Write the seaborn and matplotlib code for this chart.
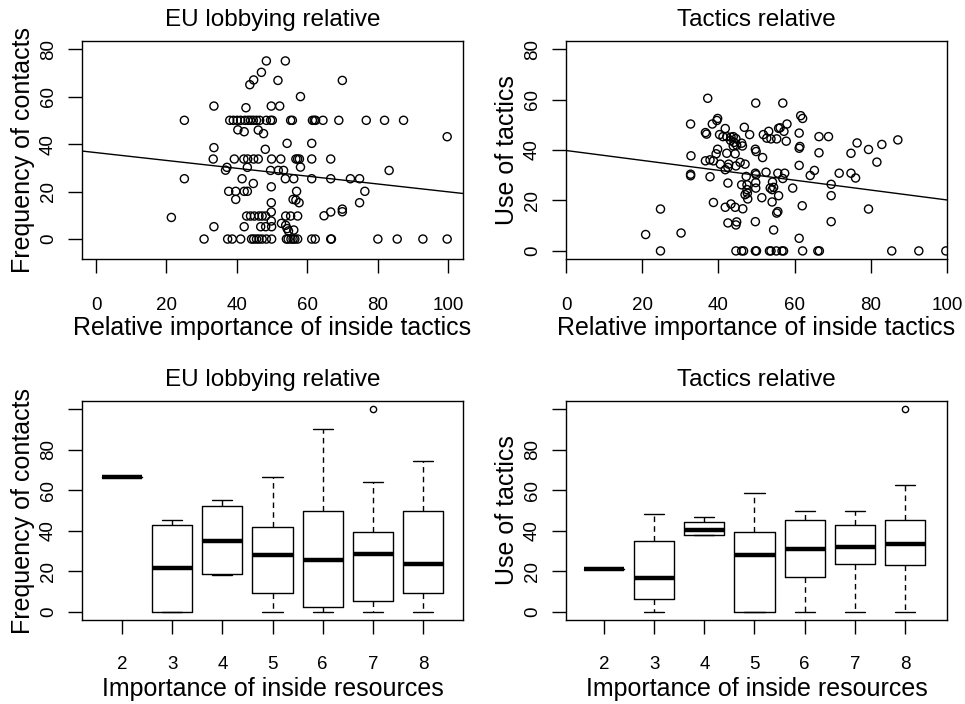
import matplotlib
matplotlib.use("Agg")
import matplotlib.pyplot as plt
import seaborn as sns
import numpy as np

# ----- scatter data: relative importance of inside tactics vs frequency of contacts -----
inside_eu = [48.4, 53.8, 47.0, 44.8, 43.7, 51.7, 70.0, 58.1, 33.5, 42.6, 49.8, 52.2,
             25.1, 38.0, 39.0, 40.1, 41.1, 42.3, 43.2, 43.9, 44.7, 45.6, 46.5, 48.4,
             49.6, 50.1, 55.3, 55.8, 61.5, 62.0, 62.4, 64.5, 69.0, 76.8, 82.0, 87.4,
             40.3, 42.1, 46.1, 47.6, 99.8, 54.3, 61.3, 33.5, 48.1,
             33.3, 39.3, 42.0, 43.1, 44.8, 46.1, 49.9, 52.5, 56.8, 57.3, 57.8, 61.3, 66.7,
             36.8, 37.2, 43.0, 49.6, 51.8, 53.3, 58.1, 83.3,
             25.1, 41.5, 53.8, 56.2, 61.3, 66.7, 72.3, 74.9,
             44.7, 49.8, 76.4, 37.7, 39.7, 42.1, 43.0, 57.0, 39.7, 56.0, 56.8, 57.7, 49.8, 74.9,
             70.0, 70.0, 66.7, 49.8, 64.8, 21.4,
             42.8, 43.9, 45.0, 46.3, 47.2, 48.2, 53.9, 55.3, 57.3,
             49.8, 52.7, 53.9, 49.9, 33.5, 42.1, 46.8, 48.2, 54.3, 56.2, 54.7,
             30.7, 37.4, 38.7, 41.1, 44.2, 44.8, 45.6, 46.3, 47.2, 48.4, 49.9, 54.1, 54.6,
             55.4, 56.0, 56.5, 57.3, 61.3, 62.3, 66.7, 66.9, 80.1, 85.6, 92.9, 99.8]
contacts = [75.0, 75.0, 70.2, 67.0, 65.0, 66.8, 66.8, 60.0, 56.0, 55.3, 56.0, 56.0,
            50, 50, 50, 50, 50, 50, 50, 50, 50, 50, 50, 50,
            50, 50, 50, 50, 50, 50, 50, 50, 50, 50, 50, 50,
            46.0, 45.2, 45.9, 44.4, 43.1, 40.3, 40.3, 38.5, 37.8,
            33.7, 33.7, 33.7, 33.7, 33.7, 33.7, 33.7, 33.7, 33.7, 33.7, 33.7, 33.7, 33.7,
            29.0, 30.2, 30.2, 28.9, 28.9, 28.9, 30.3, 28.9,
            25.4, 25.4, 25.4, 25.4, 25.4, 25.4, 25.4, 25.4,
            23.4, 22.0, 20.1, 20.1, 20.1, 20.1, 20.1, 20.1, 16.7, 16.7, 16.4, 15.3, 15.3, 15.3,
            12.6, 11.5, 11.4, 11.4, 9.8, 9.1,
            9.7, 9.7, 9.7, 9.7, 9.7, 9.7, 9.7, 9.7, 9.7,
            7.6, 6.6, 5.8, 5.2, 5.2, 5.2, 5.2, 5.2, 4.4, 3.8, 3.4,
            0, 0, 0, 0, 0, 0, 0, 0, 0, 0, 0, 0, 0,
            0, 0, 0, 0, 0, 0, 0, 0, 0, 0, 0, 0]

# ----- scatter data: relative importance of inside tactics vs use of tactics -----
inside_tac = [37.2, 49.8, 56.9, 61.6, 62.1, 32.7, 39.8, 39.6, 38.4, 58.0, 46.8, 41.8,
              55.8, 56.2, 53.2, 57.2, 36.6, 36.9, 48.2, 51.8, 61.2, 66.4, 68.9, 40.3,
              41.2, 52.7, 53.8, 55.3, 87.1, 57.8, 76.4, 82.9, 42.2, 43.3, 43.9, 44.6,
              43.2, 44.1, 44.8, 46.1, 46.3, 43.9, 79.4, 61.2, 61.4, 49.7, 49.9, 39.8,
              39.4, 42.2, 44.4, 66.4, 74.8, 32.8, 51.6, 36.6, 37.8, 38.7, 81.6, 45.7,
              40.5, 42.7, 47.0, 44.6, 61.2, 41.8, 42.5, 65.2, 64.1, 32.7, 32.7, 37.8,
              49.7, 49.9, 52.5, 55.6, 57.4, 71.7, 74.8, 56.9, 76.0, 47.3, 46.1, 47.5,
              49.8, 54.2, 69.6, 42.5, 59.5, 49.8, 53.6, 54.1, 54.5, 47.5, 47.6, 47.0,
              47.7, 51.4, 55.8, 69.6, 38.7, 54.1, 43.3, 41.8, 44.4, 46.4, 62.0, 24.8,
              79.4, 55.6, 55.3, 42.5, 44.8, 44.6, 49.7, 69.6, 54.5, 30.2, 20.9, 61.2,
              24.8, 44.6, 46.1, 46.6, 49.7, 50.0, 53.4, 53.8, 55.2, 56.7, 57.1, 62.1,
              66.1, 66.5, 85.5, 92.6, 99.7]
tactics_use = [60.5, 58.6, 58.6, 53.6, 52.5, 50.3, 52.5, 51.7, 50.3, 50.3, 49.0, 48.5,
               48.6, 48.8, 47.4, 47.4, 46.9, 46.3, 46.1, 46.1, 46.7, 45.3, 45.3, 46.1,
               45.3, 44.7, 44.4, 44.4, 44.0, 43.5, 42.8, 42.2, 45.3, 45.1, 45.3, 44.5,
               43.8, 43.0, 41.9, 42.7, 41.6, 41.6, 40.2, 40.7, 41.4, 40.3, 39.4, 40.3,
               38.5, 38.7, 38.5, 38.9, 38.7, 37.7, 37.0, 35.7, 36.1, 35.7, 35.2, 35.1,
               34.4, 34.4, 34.4, 33.7, 33.9, 32.2, 33.1, 31.9, 29.9, 30.4, 29.8, 29.4,
               30.8, 30.2, 31.2, 30.8, 30.8, 30.8, 30.8, 28.7, 28.9, 29.5, 26.2, 26.2,
               27.1, 27.3, 26.4, 26.9, 24.9, 24.9, 24.9, 24.3, 25.2, 24.3, 22.9, 22.3,
               20.6, 21.1, 21.9, 21.9, 19.2, 19.4, 18.6, 17.3, 17.3, 16.7, 17.9, 16.6,
               16.6, 15.6, 15.0, 11.1, 11.5, 10.3, 11.6, 11.6, 8.3, 7.1, 6.5, 5.0,
               0, 0, 0, 0, 0, 0, 0, 0, 0, 0, 0, 0,
               0, 0, 0, 0, 0]

# fitted lines (intercept, slope)
fit_eu = (36.4, -0.165)
fit_tac = (39.8, -0.196)

# ----- box plot summaries by importance of inside resources -----
resources = ["2", "3", "4", "5", "6", "7", "8"]
eu_med = [66.7, 21.5, 34.9, 27.9, 25.4, 28.7, 23.8]
eu_q1 = [66.7, 0.0, 18.9, 9.5, 2.5, 5.6, 9.5]
eu_q3 = [66.7, 43.0, 52.4, 41.8, 49.7, 39.5, 49.7]
eu_lo = [66.7, 0.0, 18.0, 0.0, 0.0, 0.0, 0.0]
eu_hi = [66.7, 45.1, 55.4, 66.7, 90.3, 64.1, 74.6]
eu_out = [[], [], [], [], [], [100.0], []]

tac_med = [21.3, 16.7, 40.5, 27.9, 30.8, 31.8, 33.3]
tac_q1 = [21.3, 6.4, 38.0, 0.0, 17.2, 23.6, 23.0]
tac_q3 = [21.3, 34.8, 44.3, 39.5, 45.1, 42.8, 45.1]
tac_lo = [21.3, 0.0, 38.0, 0.0, 0.0, 0.0, 0.0]
tac_hi = [21.3, 48.4, 46.7, 58.5, 49.8, 49.8, 62.6]
tac_out = [[], [], [], [], [], [], [100.0]]

sns.set_theme(style="ticks")
plt.rcParams['font.family'] = ['Liberation Sans', 'DejaVu Sans']
plt.rcParams['axes.linewidth'] = 1.0
plt.rcParams['xtick.major.size'] = 10
plt.rcParams['ytick.major.size'] = 10
plt.rcParams['xtick.major.width'] = 1.0
plt.rcParams['ytick.major.width'] = 1.0
plt.rcParams['xtick.color'] = 'black'
plt.rcParams['ytick.color'] = 'black'
plt.rcParams['xtick.labelcolor'] = 'black'
plt.rcParams['ytick.labelcolor'] = 'black'
plt.rcParams['axes.edgecolor'] = 'black'
plt.rcParams['axes.labelcolor'] = 'black'
plt.rcParams['text.color'] = 'black'

TITLE_FS = 17.5
LABEL_FS = 18
TICK_FS = 13.5


def style_axis(ax, title, xlabel, ylabel, xpad):
    ax.set_title(title, fontsize=TITLE_FS, pad=11, color='black')
    ax.set_xlabel(xlabel, fontsize=LABEL_FS, color='black')
    ax.set_ylabel(ylabel, fontsize=LABEL_FS, va='center', color='black')
    ax.xaxis.set_label_coords(0.5, -0.26)
    ax.yaxis.set_label_coords(-0.155, 0.5)
    ax.tick_params(axis='x', labelsize=TICK_FS, pad=xpad, colors='black')
    ax.tick_params(axis='y', labelsize=TICK_FS, pad=8, labelrotation=90, colors='black')
    for lab in ax.get_yticklabels():
        lab.set_va('center')
    for sp in ax.spines.values():
        sp.set_visible(True)
        sp.set_color('black')
    ax.grid(False)
    ax.set_facecolor('white')


def scatter_panel(ax, x, y, fit, xlim, ylim, title, ylabel):
    sns.scatterplot(x=x, y=y, ax=ax, marker='o', s=34, facecolors='none',
                    edgecolor='black', linewidth=1.0)
    ax.axline((0, fit[0]), slope=fit[1], color='black', lw=1.0)
    ax.set_xlim(*xlim)
    ax.set_ylim(*ylim)
    ax.set_xticks([0, 20, 40, 60, 80, 100])
    ax.set_yticks([0, 20, 40, 60, 80])
    style_axis(ax, title, "Relative importance of inside tactics", ylabel, 17)


def box_panel(ax, med, q1, q3, lo, hi, out, xlim, title, ylabel):
    stats = []
    for i in range(len(resources)):
        stats.append(dict(med=med[i], q1=q1[i], q3=q3[i], whislo=lo[i],
                          whishi=hi[i], fliers=out[i], label=resources[i]))
    ax.bxp(stats, positions=np.arange(1, len(resources) + 1), widths=0.8,
           capwidths=0.4, showfliers=True,
           boxprops=dict(color='black', lw=1.0),
           medianprops=dict(color='black', lw=3.2, solid_capstyle='butt'),
           whiskerprops=dict(color='black', lw=1.0, linestyle=(0, (4, 3))),
           capprops=dict(color='black', lw=1.0),
           flierprops=dict(marker='o', markersize=4.5, markerfacecolor='none',
                           markeredgecolor='black', markeredgewidth=1.0))
    ax.set_xlim(*xlim)
    ax.set_ylim(-4, 104)
    ax.set_yticks([0, 20, 40, 60, 80, 100])
    ax.set_yticklabels(["0", "20", "40", "60", "80", ""])
    style_axis(ax, title, "Importance of inside resources", ylabel, 16)


fig = plt.figure(figsize=(9.65, 7.04), dpi=100)
W, H = 965.0, 704.0
ax1 = fig.add_axes([82 / W, 1 - 259 / H, 381 / W, 218 / H])
ax2 = fig.add_axes([566 / W, 1 - 259 / H, 381 / W, 218 / H])
ax3 = fig.add_axes([82 / W, 1 - 620 / H, 381 / W, 219 / H])
ax4 = fig.add_axes([566 / W, 1 - 620 / H, 381 / W, 219 / H])

scatter_panel(ax1, inside_eu, contacts, fit_eu, (-4, 104.3), (-8.4, 83.4),
              "EU lobbying relative", "Frequency of contacts")
scatter_panel(ax2, inside_tac, tactics_use, fit_tac, (0, 100), (-3.2, 83.2),
              "Tactics relative", "Use of tactics")
box_panel(ax3, eu_med, eu_q1, eu_q3, eu_lo, eu_hi, eu_out, (0.2, 7.8),
          "EU lobbying relative", "Frequency of contacts")
box_panel(ax4, tac_med, tac_q1, tac_q3, tac_lo, tac_hi, tac_out, (0.24, 7.84),
          "Tactics relative", "Use of tactics")

fig.savefig("out.png", dpi=100, facecolor='white')
